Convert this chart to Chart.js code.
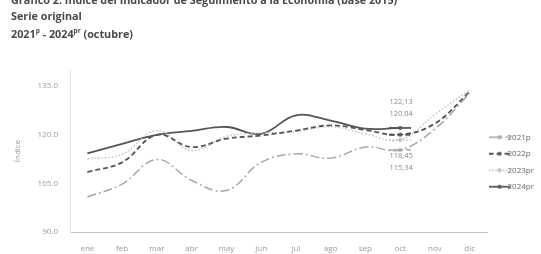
<!DOCTYPE html>
<html lang="es">
<head>
    <meta charset="UTF-8">
    <title>Índice del Indicador de Seguimiento a la Economía</title>
    <script src="https://cdn.jsdelivr.net/npm/chart.js"></script>
    <style>
        body {
            margin: 0;
            padding: 0;
            width: 541px;
            height: 254px;
            overflow: hidden;
            background: #fff;
            font-family: 'Open Sans', sans-serif;
            position: relative;
        }

        /* Header lines */
        .titles {
            position: absolute;
            left: 11px;
            top: -8px;
            color: #4a4a4a;
            font-weight: bold;
            font-size: 10.8px;
            line-height: 15.5px;
            white-space: nowrap;
            z-index: 2;
        }
        .titles sup { font-size: 6.5px; }

        .chart-box {
            position: absolute;
            left: 0;
            top: 0;
            width: 544px;
            height: 254px;
        }
    </style>
</head>
<body>

    <div class="titles">
        <div>Gráfico 2. Índice del Indicador de Seguimiento a la Economía (base 2015)</div>
        <div>Serie original</div>
        <div>2021<sup>p</sup> - 2024<sup>pr</sup> (octubre)</div>
    </div>

    <div class="chart-box">
        <canvas id="iseChart"></canvas>
    </div>

    <script>
        // months
        const months = ['ene', 'feb', 'mar', 'abr', 'may', 'jun', 'jul', 'ago', 'sep', 'oct', 'nov', 'dic'];
        const seriesNames = ['2021p', '2022p', '2023pr', '2024pr'];

        // values (oct values from the labels)
        const ise2021 = [100.8, 104.8, 112.4, 105.9, 102.8, 111.5, 114.1, 112.8, 116.2, 115.34, 121.8, 132.8];
        const ise2022 = [108.5, 111.5, 120.0, 116.2, 118.8, 119.8, 121.3, 122.9, 121.5, 120.04, 123.5, 133.3];
        const ise2023 = [112.6, 114.0, 121.3, 115.1, 119.5, 120.6, 121.0, 122.5, 120.3, 118.45, 126.3, 133.8];
        const ise2024 = [114.3, 117.2, 120.0, 121.2, 122.4, 120.3, 126.0, 124.4, 121.9, 122.13, null, null];

        const yTicks = [90, 105, 120, 135];
        const octIndex = 9;

        const styles = [
            { color: '#a8a8a8', width: 1.5, dash: [9, 3, 2, 3], dot: 1.5, labelOff: 18 },
            { color: '#555555', width: 1.8, dash: [5, 3], dot: 2.5, labelOff: -21 },
            { color: '#bbbbbb', width: 1.3, dash: [1.5, 2], dot: 1.5, labelOff: 16 },
            { color: '#555555', width: 1.8, dash: [], dot: 2.5, labelOff: -26 }
        ];

        function legendIcon(st) {
            const c = document.createElement('canvas');
            c.width = 22;
            c.height = 8;
            const g = c.getContext('2d');
            g.strokeStyle = st.color;
            g.lineWidth = st.width;
            g.setLineDash(st.dash);
            g.beginPath();
            g.moveTo(0, 4);
            g.lineTo(22, 4);
            g.stroke();
            g.fillStyle = st.color;
            g.beginPath();
            g.arc(11, 4, 2, 0, Math.PI * 2);
            g.fill();
            return c;
        }

        const allSeries = [ise2021, ise2022, ise2023, ise2024];
        const datasets = allSeries.map((vals, i) => ({
            label: seriesNames[i],
            data: vals,
            borderColor: styles[i].color,
            backgroundColor: styles[i].color,
            borderWidth: styles[i].width,
            borderDash: styles[i].dash,
            tension: 0.4,
            fill: false,
            pointRadius: ctx => ctx.dataIndex === octIndex ? styles[i].dot : 0,
            pointStyle: legendIcon(styles[i])
        }));

        // little value labels next to october
        const octLabels = {
            id: 'octLabels',
            afterDatasetsDraw(chart) {
                const g = chart.ctx;
                const x = chart.scales.x.getPixelForValue(octIndex);
                g.save();
                g.font = '7.5px "Open Sans", sans-serif';
                g.fillStyle = '#8a8a8a';
                g.textAlign = 'center';
                g.textBaseline = 'middle';
                allSeries.forEach((vals, i) => {
                    const v = vals[octIndex];
                    const y = chart.scales.y.getPixelForValue(v) + styles[i].labelOff;
                    g.fillText(v.toFixed(2).replace('.', ','), x + 1, y);
                });
                g.restore();
            }
        };

        const ctx = document.getElementById('iseChart').getContext('2d');
        const chart = new Chart(ctx, {
            type: 'line',
            data: { labels: months, datasets: datasets },
            plugins: [octLabels],
            options: {
                responsive: true,
                maintainAspectRatio: false,
                animation: false,
                layout: { padding: { top: 70, left: 0, right: 0, bottom: 0 } },
                plugins: {
                    tooltip: { enabled: false },
                    legend: {
                        position: 'right',
                        align: 'center',
                        labels: {
                            usePointStyle: true,
                            color: '#666',
                            font: { family: 'Open Sans', size: 8 },
                            padding: 8.5
                        }
                    }
                },
                scales: {
                    x: {
                        offset: true,
                        grid: { display: false, drawTicks: false },
                        border: { display: true, color: '#c4c4c4', dash: [2, 2], width: 1 },
                        ticks: {
                            color: '#9a9a9a',
                            font: { family: 'Open Sans', size: 8 },
                            padding: 12,
                            maxRotation: 0
                        },
                        afterFit(axis) { axis.height = 22; }
                    },
                    y: {
                        min: 90,
                        max: 140,
                        afterBuildTicks(axis) {
                            axis.ticks = yTicks.map(v => ({ value: v }));
                        },
                        grid: { display: false, drawTicks: false },
                        border: { display: true, color: '#e2e2e2', width: 1 },
                        ticks: {
                            color: '#9a9a9a',
                            font: { family: 'Open Sans', size: 8 },
                            padding: 12,
                            callback: v => v.toFixed(1)
                        },
                        title: {
                            display: true,
                            text: 'Índice',
                            color: '#9a9a9a',
                            font: { family: 'Open Sans', size: 8 },
                            padding: { top: 13, bottom: 0 }
                        },
                        afterFit(axis) { axis.width = 70; }
                    }
                }
            }
        });
    </script>

</body>
</html>
